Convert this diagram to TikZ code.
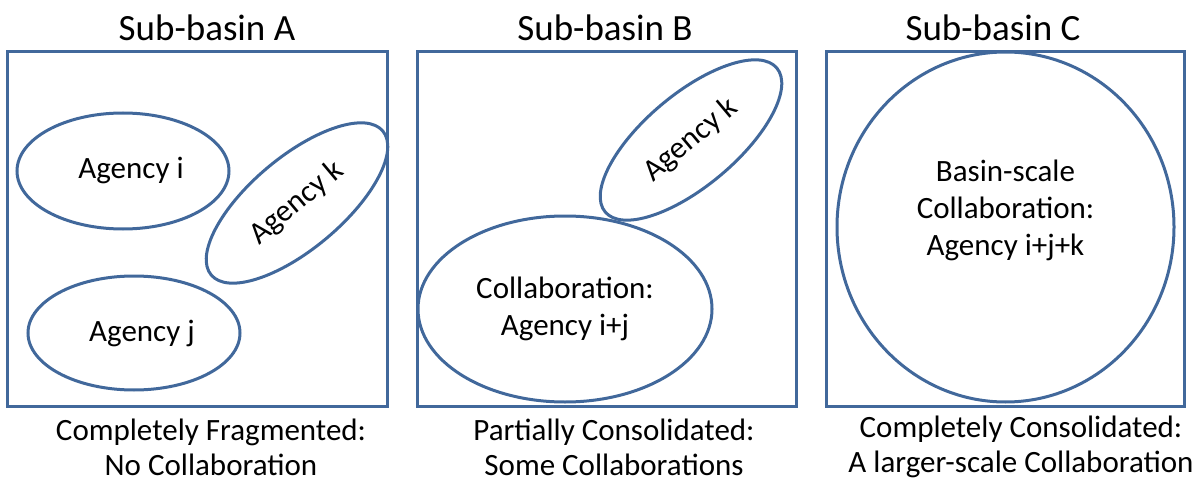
\documentclass[tikz,border=0pt]{standalone}
\usepackage{fontspec}
\setmainfont{Carlito}
\usetikzlibrary{shapes.geometric}
\definecolor{outline}{HTML}{41689B}

\begin{document}
\begin{tikzpicture}[x=1pt,y=-1pt,
  basin/.style={draw=outline,line width=3pt,minimum width=#1,minimum height=354pt,inner sep=0pt},
  agency/.style={ellipse,draw=outline,line width=3pt,inner sep=0pt,font=\fontsize{31}{37}\selectfont,align=center},
  title/.style={font=\fontsize{37}{44}\selectfont},
  caption/.style={font=\fontsize{31}{35}\selectfont,align=center,inner sep=0pt}]
\useasboundingbox (0,0) rectangle (1204,481);

% sub-basin A
\node [title] (tA) at (207,28) {Sub-basin A};
\node [basin=380pt] (boxA) at (197,229) {};
\node [agency,minimum width=212pt,minimum height=116pt] (agi) at (123,171) {\hspace*{16pt}Agency i};
\node [agency,minimum width=212pt,minimum height=114pt] (agj) at (134,333) {\hspace*{16pt}Agency j};
\node [agency,minimum width=224pt,minimum height=92pt,rotate=40] (agkA) at (297,203) {Agency k};
\node [caption] (capA) at (211,447) {Completely Fragmented:\\No Collaboration};

% sub-basin B
\node [title] (tB) at (605,28) {Sub-basin B};
\node [basin=379pt] (boxB) at (606.5,229) {};
\node [agency,minimum width=224pt,minimum height=92pt,rotate=40] (agkB) at (691,140) {Agency k};
\node [agency,minimum width=294pt,minimum height=186pt] (agij) at (565,309) {Collaboration:\\Agency i+j};
\node [caption] (capB) at (614,447) {Partially Consolidated:\\Some Collaborations};

% sub-basin C
\node [title] (tC) at (993,28) {Sub-basin C};
\node [basin=358pt] (boxC) at (1005,229) {};
\node [agency,minimum width=337pt,minimum height=350pt] (agijk) at (1005.5,227) {};
\node [caption,font=\fontsize{31}{37}\selectfont] (txtC) at ([yshift=17pt]agijk.center) {Basin-scale\\Collaboration:\\Agency i+j+k};
\node [caption] (capC) at (1021,447) {Completely Consolidated:\\A larger-scale Collaboration};
\end{tikzpicture}
\end{document}
